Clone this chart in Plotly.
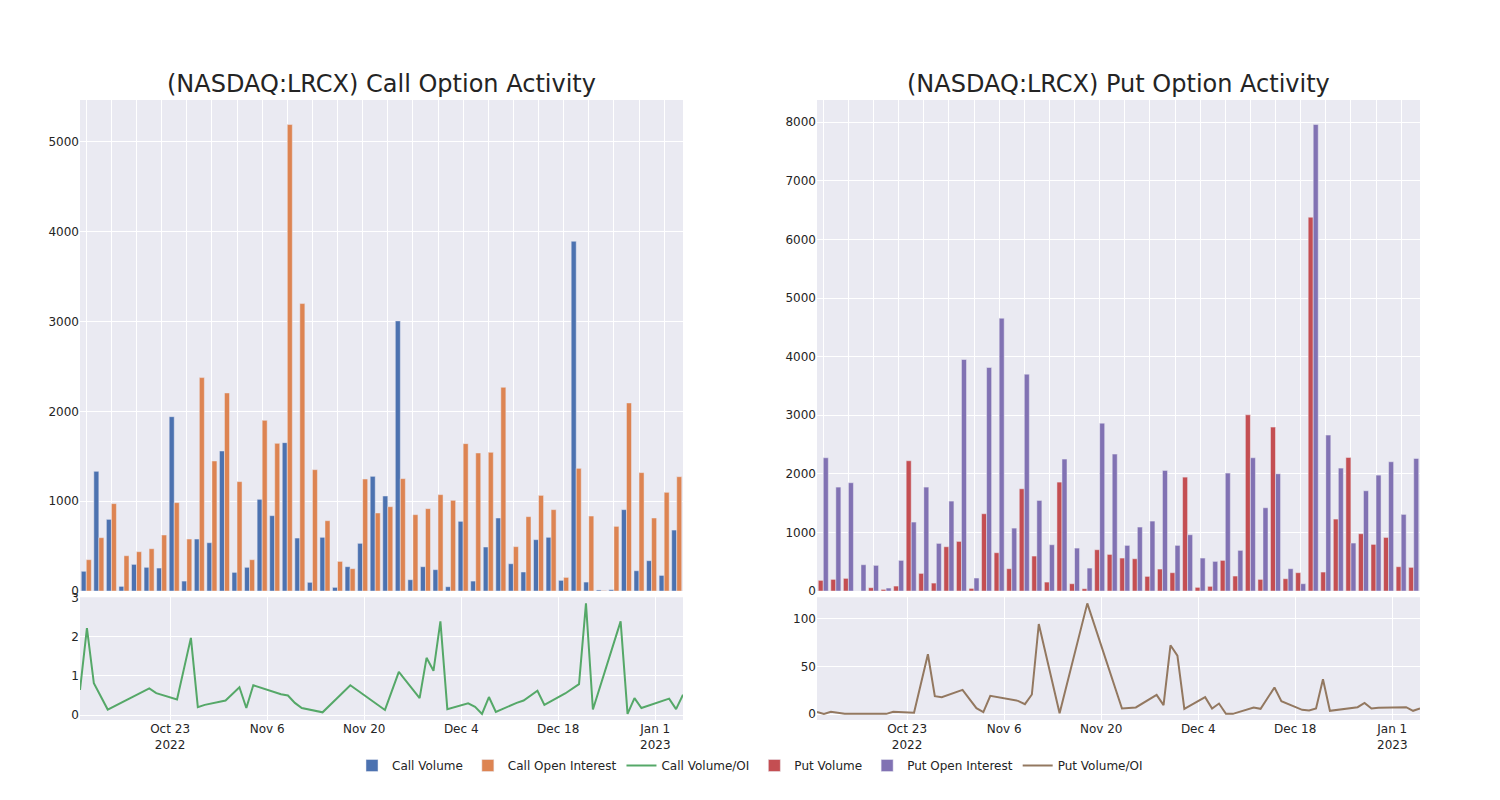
import plotly.graph_objects as go
from plotly.subplots import make_subplots
import pandas as pd

dates = ["2022-10-10", "2022-10-11", "2022-10-12", "2022-10-14", "2022-10-20", "2022-10-21",
         "2022-10-24", "2022-10-26", "2022-10-27", "2022-10-28", "2022-10-31", "2022-11-02",
         "2022-11-03", "2022-11-04", "2022-11-08", "2022-11-09", "2022-11-10", "2022-11-11",
         "2022-11-14", "2022-11-18", "2022-11-23", "2022-11-25", "2022-11-28", "2022-11-29",
         "2022-11-30", "2022-12-01", "2022-12-02", "2022-12-05", "2022-12-06", "2022-12-07",
         "2022-12-08", "2022-12-09", "2022-12-12", "2022-12-13", "2022-12-15", "2022-12-16",
         "2022-12-19", "2022-12-20", "2022-12-21", "2022-12-22", "2022-12-23", "2022-12-27",
         "2022-12-28", "2022-12-29", "2022-12-30", "2023-01-03", "2023-01-04", "2023-01-05"]

call_volume = [220, 1333, 798, 52, 297, 264, 256, 1941, 111, 579, 538, 1559, 208, 264, 1021, 839,
               1652, 590, 97, 598, 41, 271, 531, 1277, 1058, 3007, 126, 271, 238, 48, 776, 111,
               490, 813, 304, 212, 572, 598, 119, 3894, 100, 12, 15, 906, 226, 338, 174, 679]
call_oi = [349, 594, 973, 393, 438, 471, 624, 984, 579, 2376, 1448, 2205, 1218, 349, 1900, 1644,
           5193, 3200, 1351, 783, 330, 249, 1247, 869, 939, 1251, 850, 917, 1073, 1010, 1641, 1537,
           1544, 2268, 494, 828, 1065, 906, 152, 1366, 835, 5, 720, 2094, 1318, 813, 1099, 1273]
call_ratio = [0.64, 2.22, 0.81, 0.14, 0.68, 0.56, 0.40, 1.97, 0.20, 0.26, 0.37, 0.71, 0.18, 0.76,
              0.53, 0.50, 0.31, 0.18, 0.07, 0.76, 0.13, 1.10, 0.43, 1.46, 1.13, 2.39, 0.15, 0.30,
              0.21, 0.03, 0.46, 0.08, 0.31, 0.37, 0.62, 0.26, 0.55, 0.66, 0.79, 2.85, 0.14, 2.39,
              0.03, 0.43, 0.18, 0.42, 0.15, 0.52]

put_volume = [182, 199, 216, 0, 57, 28, 85, 2223, 301, 136, 756, 847, 45, 1319, 654, 381,
              1745, 597, 153, 1859, 125, 40, 705, 625, 563, 551, 250, 375, 313, 1944, 63, 80,
              523, 256, 3007, 199, 2797, 210, 313, 6379, 324, 1228, 2280, 978, 796, 915, 415, 404]
put_oi = [2274, 1774, 1848, 449, 438, 51, 523, 1177, 1774, 813, 1535, 3951, 222, 3815, 4656, 1074,
          3701, 1546, 790, 2251, 733, 392, 2865, 2337, 779, 1092, 1194, 2058, 779, 961, 563, 506,
          2013, 694, 2274, 1421, 2001, 381, 125, 7960, 2661, 2098, 819, 1711, 1978, 2206, 1308, 2263]
put_ratio = [2.4, 0.3, 2.4, 0.3, 0.3, 2.4, 1.4, 62.7, 18.8, 17.8, 25.4, 6.3, 2.1, 19.2, 13.9, 10.5,
             20.6, 94.4, 1.0, 116.0, 5.9, 7.0, 20.2, 9.4, 72.1, 61.3, 5.6, 17.8, 5.9, 11.1, 0.3, 0.3,
             7.0, 5.6, 27.9, 13.6, 4.5, 3.8, 5.9, 36.6, 3.5, 7.3, 11.8, 5.9, 6.6, 7.3, 3.5, 5.9]

titles = ["(NASDAQ:LRCX) Call Option Activity", "(NASDAQ:LRCX) Put Option Activity"]

line_dates = pd.to_datetime(dates)

fig = make_subplots(rows=2, cols=2, row_heights=[0.8, 0.2], vertical_spacing=0.01,
                    horizontal_spacing=0.1, subplot_titles=titles)

fig.add_trace(go.Bar(x=dates, y=call_volume, name="Call Volume"), row=1, col=1)
fig.add_trace(go.Bar(x=dates, y=call_oi, name="Call Open Interest"), row=1, col=1)
fig.add_trace(go.Scatter(x=line_dates, y=call_ratio, mode="lines", name="Call Volume/OI"), row=2, col=1)
fig.add_trace(go.Bar(x=dates, y=put_volume, name="Put Volume"), row=1, col=2)
fig.add_trace(go.Bar(x=dates, y=put_oi, name="Put Open Interest"), row=1, col=2)
fig.add_trace(go.Scatter(x=line_dates, y=put_ratio, mode="lines", name="Put Volume/OI"), row=2, col=2)

fig.update_layout(
    template="seaborn",
    width=1484, height=784,
    font=dict(family="DejaVu Sans"),
    barmode="group",
    margin=dict(l=72, r=72, t=92, b=72),
    legend=dict(orientation="h", x=0.5, xanchor="center", y=-0.05, yanchor="top"),
)
fig.update_annotations(font_size=24)
fig.update_xaxes(type="category", showticklabels=False, row=1)
fig.update_xaxes(type="date", row=2)

fig.write_html("out.html")
